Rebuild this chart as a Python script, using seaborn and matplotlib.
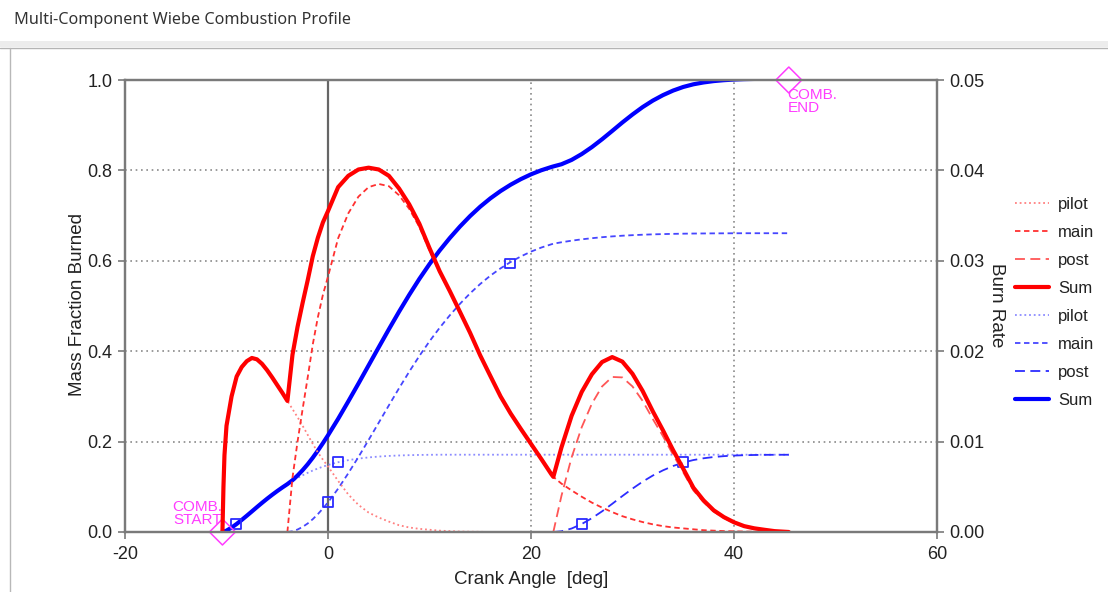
import numpy as np
import pandas as pd
import matplotlib
matplotlib.use("Agg")
import matplotlib.pyplot as plt
from matplotlib.lines import Line2D
from matplotlib.patches import Rectangle
import seaborn as sns

# ---------------------------------------------------------------------------
# Crank-angle grid shared by all Wiebe components [deg]
# ---------------------------------------------------------------------------
theta = [-10.4, -10.3, -10.2, -10.0, -9.5, -9.0, -8.5, -8.0, -7.5, -7.0,
         -6.5, -6.0, -5.5, -5.0, -4.5, -4.0, -3.5, -3.0, -2.5, -2.0,
         -1.5, -1.0, -0.5, 0.0, 1.0, 2.0, 3.0, 4.0, 5.0, 6.0,
         7.0, 8.0, 9.0, 10.0, 11.0, 12.0, 13.0, 14.0, 15.0, 16.0,
         17.0, 18.0, 19.0, 20.0, 21.0, 22.0, 22.2, 23.0, 24.0, 25.0,
         26.0, 27.0, 28.0, 29.0, 30.0, 31.0, 32.0, 33.0, 34.0, 35.0,
         36.0, 37.0, 38.0, 39.0, 40.0, 41.0, 42.0, 43.0, 44.0, 45.4]

# Burn rate [1/deg] of each component (right axis)
pilot_rate_theta = theta[0:40]
pilot_rate = [0.0, 0.0050, 0.0085, 0.01175, 0.0150, 0.0172, 0.01825, 0.0189, 0.01925, 0.0191,
              0.0186, 0.0179, 0.0171, 0.01625, 0.0154, 0.0145, 0.0136, 0.0127, 0.01175, 0.01075,
              0.00975, 0.0088, 0.0080, 0.00725, 0.00565, 0.00415, 0.0030, 0.00215, 0.0016, 0.00115,
              0.00075, 0.0005, 0.00035, 0.00025, 0.00015, 0.0001, 0.00005, 0.00003, 0.00002, 0.0]

main_theta = theta[15:]
main_rate = [0.0, 0.006, 0.010, 0.0136, 0.0171, 0.02075, 0.02375, 0.02625, 0.02825, 0.0325,
             0.03525, 0.0371, 0.03815, 0.0385, 0.03825, 0.03725, 0.03575, 0.03375, 0.03115, 0.0287,
             0.02655, 0.0243, 0.022, 0.0195, 0.01725, 0.015, 0.0131, 0.0114, 0.00975, 0.0081,
             0.0064, 0.0061, 0.00535, 0.0046, 0.0039, 0.00325, 0.0027, 0.0022, 0.00175, 0.0014,
             0.0011, 0.00085, 0.00065, 0.0005, 0.0004, 0.0003, 0.0002, 0.00015, 0.0001, 0.000075,
             0.00005, 0.000035, 0.000025, 0.000015, 0.0]

post_theta = theta[46:]
post_rate = [0.0, 0.004, 0.00825, 0.0116, 0.0142, 0.0161, 0.01715, 0.0171, 0.0161, 0.0145,
             0.0125, 0.0106, 0.00855, 0.0066, 0.0046, 0.0033, 0.00225, 0.00155, 0.001, 0.0006,
             0.00037, 0.00022, 0.00008, 0.0]

# Mass fraction burned of each component (left axis)
pilot_mfb = [0.0, 0.0003, 0.0015, 0.003, 0.0097, 0.0178, 0.0267, 0.036, 0.0455, 0.0551,
             0.0645, 0.0736, 0.0823, 0.0906, 0.0985, 0.106, 0.113, 0.1195, 0.1255, 0.131,
             0.136, 0.1405, 0.1446, 0.1483, 0.1544, 0.159, 0.1624, 0.165, 0.1669, 0.1683,
             0.1693, 0.170, 0.1705, 0.1708, 0.171, 0.171, 0.171, 0.171, 0.171, 0.171,
             0.171, 0.171, 0.171, 0.171, 0.171, 0.171, 0.171, 0.171, 0.171, 0.171,
             0.171, 0.171, 0.171, 0.171, 0.171, 0.171, 0.171, 0.171, 0.171, 0.171,
             0.171, 0.171, 0.171, 0.171, 0.171, 0.171, 0.171, 0.171, 0.171, 0.171]

main_mfb = [0.0, 0.0015, 0.0055, 0.0113, 0.0189, 0.0284, 0.0395, 0.052, 0.0656, 0.096,
            0.130, 0.166, 0.2036, 0.2419, 0.2803, 0.3181, 0.3546, 0.3894, 0.4219, 0.4518,
            0.4794, 0.5048, 0.528, 0.5488, 0.5672, 0.5833, 0.5974, 0.6097, 0.6203, 0.6292,
            0.6365, 0.6378, 0.641, 0.6445, 0.6475, 0.650, 0.6522, 0.654, 0.6555, 0.6567,
            0.6577, 0.6585, 0.6591, 0.6596, 0.660, 0.6603, 0.6605, 0.6607, 0.6608, 0.6609,
            0.661, 0.661, 0.661, 0.661, 0.661]

post_mfb = [0.0, 0.0016, 0.0077, 0.0177, 0.0306, 0.0457, 0.0623, 0.0795, 0.096, 0.1114,
            0.1249, 0.1364, 0.146, 0.1536, 0.1592, 0.1631, 0.1659, 0.1678, 0.1691, 0.1699,
            0.1704, 0.1707, 0.1708, 0.1709]

# 10 % / 90 % points of each component
marker_theta = [-9.1, 1.0, 0.0, 17.9, 25.0, 35.0]
marker_mfb = [0.017, 0.154, 0.066, 0.594, 0.017, 0.154]

# Start / end of combustion
comb_theta = [-10.4, 45.4]
comb_mfb = [0.0, 1.0]

labels = ["pilot", "main", "post", "Sum"]

# ---------------------------------------------------------------------------
# Tables: components on the shared grid, and their sums
# ---------------------------------------------------------------------------
grid = pd.DataFrame({"theta": theta}).set_index("theta")
rate = grid.copy()
rate["pilot"] = pd.Series(pilot_rate, index=pilot_rate_theta)
rate["main"] = pd.Series(main_rate, index=main_theta)
rate["post"] = pd.Series(post_rate, index=post_theta)
rate = rate.fillna(0.0)
rate["Sum"] = rate["pilot"] + rate["main"] + rate["post"]

mfb = grid.copy()
mfb["pilot"] = pd.Series(pilot_mfb, index=theta)
mfb["main"] = pd.Series(main_mfb, index=main_theta)
mfb["post"] = pd.Series(post_mfb, index=post_theta)
mfb = mfb.fillna(0.0)
mfb["Sum"] = mfb["pilot"] + mfb["main"] + mfb["post"]

# ---------------------------------------------------------------------------
# Styling
# ---------------------------------------------------------------------------
sns.set_theme(style="white")
plt.rcParams["font.family"] = ["Liberation Sans", "DejaVu Sans"]
plt.rcParams["axes.unicode_minus"] = False

styles = {
    "pilot": dict(ls=(0, (1, 1.6)), lw=1.3),
    "main": dict(ls=(0, (3, 2)), lw=1.3),
    "post": dict(ls=(0, (5.5, 3)), lw=1.3),
    "Sum": dict(ls="-", lw=3.0),
}
red = {"pilot": "#ff8080", "main": "#ff3030", "post": "#ff5656", "Sum": "#ff0000"}
blue = {"pilot": "#8c8cff", "main": "#4646ff", "post": "#2c2cff", "Sum": "#0000ff"}

spine_col = "#7a7a7a"
text_col = "#222222"
magenta = "#ff3cff"

fig = plt.figure(figsize=(11.08, 5.92), dpi=100)
fig.patch.set_facecolor("white")

# Window panel border
fig.add_artist(Rectangle((0, 1 - 47 / 592), 1, 6 / 592, transform=fig.transFigure,
                         facecolor="#ececec", edgecolor="none"))
fig.add_artist(Line2D([0, 1], [1 - 47.5 / 592] * 2, transform=fig.transFigure,
                      color="#b4b4b4", lw=1.0))
fig.add_artist(Line2D([9.5 / 1108] * 2, [0, 1 - 47.5 / 592], transform=fig.transFigure,
                      color="#b8b8b8", lw=1.0))
fig.text(14 / 1108, 1 - 20 / 592, "Multi-Component Wiebe Combustion Profile",
         fontsize=11.7, family=["Noto Sans", "DejaVu Sans"], color="#333333",
         ha="left", va="center")

ax = fig.add_axes([125 / 1108, 1 - 532 / 592, 812 / 1108, 452 / 592])
ax2 = ax.twinx()

# Mass fraction burned (left axis)
starts = {"pilot": theta[0], "main": main_theta[0], "post": post_theta[0]}
for name in ["pilot", "main", "post"]:
    col = mfb[name]
    part = col[col.index >= starts[name]]
    sns.lineplot(x=part.index, y=part.values, ax=ax, color=blue[name],
                 linestyle=styles[name]["ls"], lw=styles[name]["lw"],
                 estimator=None, sort=False, legend=False)
sns.lineplot(x=mfb.index, y=mfb["Sum"].values, ax=ax, color=blue["Sum"],
             lw=styles["Sum"]["lw"], estimator=None, sort=False, legend=False)

ax.scatter(marker_theta, marker_mfb, marker="s", s=50, facecolors="none",
           edgecolors="#2b2bff", linewidths=1.3, zorder=6)
ax.scatter(comb_theta, comb_mfb, marker="D", s=175, facecolors="none",
           edgecolors=magenta, linewidths=1.1, zorder=7, clip_on=False)
ax.text(comb_theta[0] - 0.05, 0.012, "COMB.\nSTART", color=magenta, fontsize=11,
        ha="right", va="bottom", linespacing=0.9)
ax.text(comb_theta[1] - 0.15, 0.982, "COMB.\nEND", color=magenta, fontsize=11,
        ha="left", va="top", linespacing=0.9)

# Burn rate (right axis)
for name, ang, vals in [("pilot", pilot_rate_theta, pilot_rate),
                        ("main", main_theta, main_rate),
                        ("post", post_theta, post_rate)]:
    sns.lineplot(x=ang, y=vals, ax=ax2, color=red[name],
                 linestyle=styles[name]["ls"], lw=styles[name]["lw"],
                 estimator=None, sort=False, legend=False)
sns.lineplot(x=rate.index, y=rate["Sum"].values, ax=ax2, color=red["Sum"],
             lw=styles["Sum"]["lw"], estimator=None, sort=False, legend=False)

# Axes, grid and ticks
ax.set_xlim(-20, 60)
ax.set_ylim(0, 1.0)
ax2.set_ylim(0, 0.05)
ax.set_xticks([-20, 0, 20, 40, 60])
ax.set_yticks(np.arange(0, 1.01, 0.2))
ax2.set_yticks(np.arange(0, 0.0501, 0.01))
ax.yaxis.set_major_formatter(matplotlib.ticker.FormatStrFormatter("%.1f"))
ax2.yaxis.set_major_formatter(matplotlib.ticker.FormatStrFormatter("%.2f"))
ax.set_axisbelow(True)
ax.grid(True, color="#8a8a8a", linestyle=(0, (1, 2.2)), lw=1.2)
ax.axvline(0, color="#666666", lw=1.6, zorder=1)
ax.set_xlabel("")
ax.set_ylabel("")
ax2.set_ylabel("")

for a in (ax, ax2):
    for sp in a.spines.values():
        sp.set_color(spine_col)
        sp.set_linewidth(1.6)
    a.tick_params(axis="both", direction="out", length=5, width=1.2,
                  color=spine_col, labelsize=13, labelcolor=text_col, pad=4)
ax.tick_params(axis="x", bottom=True, pad=5)
ax.tick_params(axis="y", left=True)
ax2.tick_params(axis="y", right=True)

fig.text(77 / 1108, 1 - 305 / 592, "Mass Fraction Burned", rotation=90,
         ha="center", va="center", fontsize=13.5, color=text_col)
fig.text(531 / 1108, 1 - 580 / 592, "Crank Angle  [deg]",
         ha="center", va="center", fontsize=13.5, color=text_col)
fig.text(997 / 1108, 1 - 305 / 592, "Burn Rate", rotation=270,
         ha="center", va="center", fontsize=13.5, color=text_col)

# Legend: burn-rate components first, then mass fraction burned components
handles = []
for pal in (red, blue):
    for name in labels:
        handles.append(Line2D([], [], color=pal[name], linestyle=styles[name]["ls"],
                              lw=styles[name]["lw"]))
fig.legend(handles, labels + labels, loc="upper left",
           bbox_to_anchor=(1015 / 1108, 1 - 197 / 592), frameon=False,
           borderpad=0.0, borderaxespad=0.0,
           fontsize=12, handlelength=2.05, labelspacing=0.78, handletextpad=0.55,
           labelcolor=text_col)

fig.savefig("out.png", dpi=100)
